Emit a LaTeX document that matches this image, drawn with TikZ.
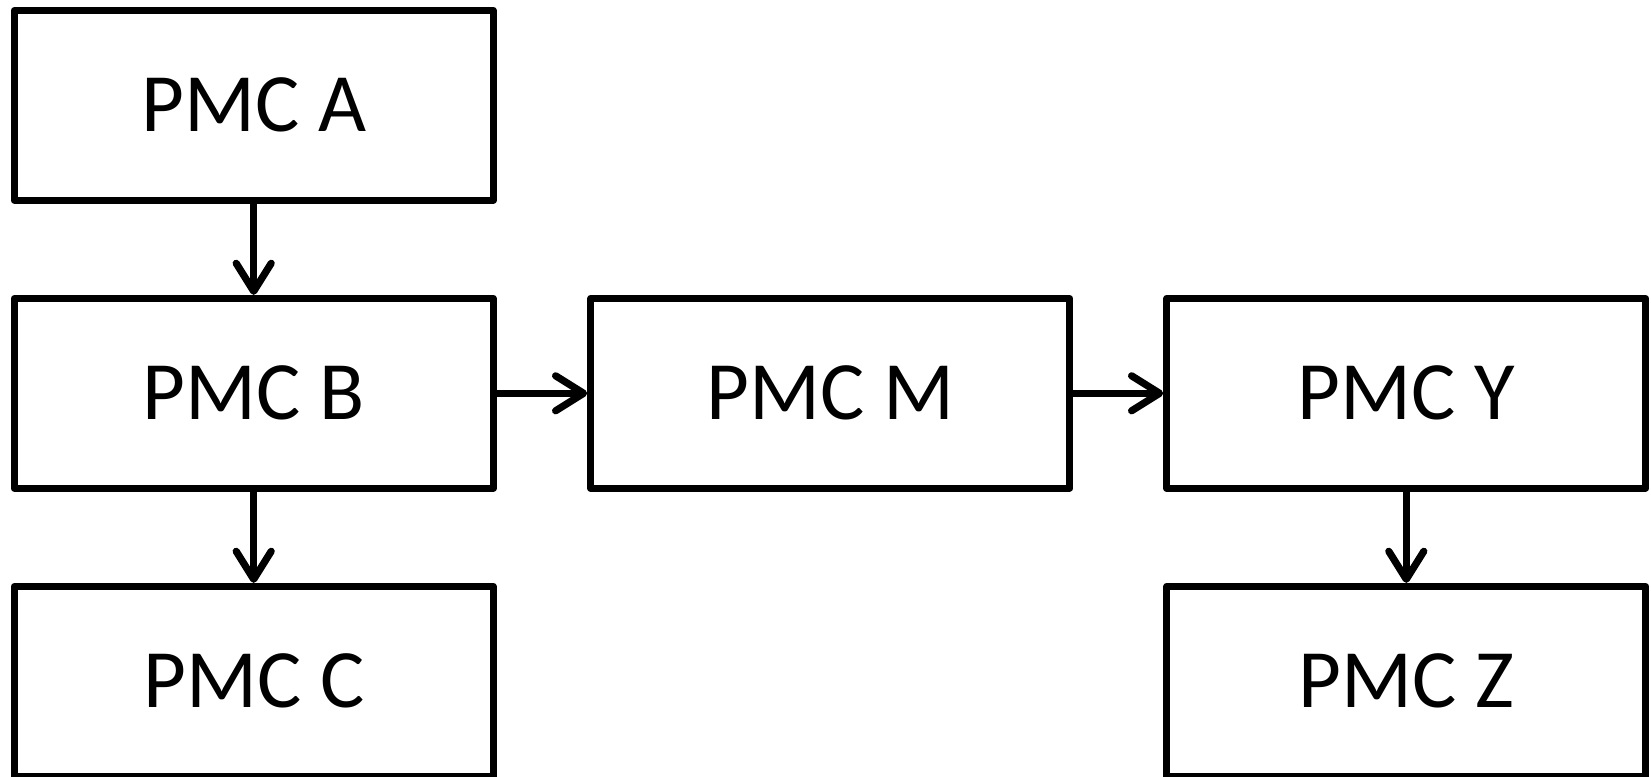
\documentclass[tikz,border=0pt]{standalone}
\usepackage{fontspec}
\setmainfont{Carlito}
\usetikzlibrary{arrows.meta}
\begin{document}
\begin{tikzpicture}[x=0.5pt,y=-0.5pt,
  pmcbox/.style={draw=black,line width=3.6pt,line join=round,rectangle,
    minimum width=239.5pt,minimum height=94.8pt,inner sep=0pt,
    font=\fontsize{41.5pt}{48pt}\selectfont},
  conn/.style={draw=black,line width=3.6pt,
    -{Straight Barb[length=14pt,width=17.5pt,line cap=round,line join=round]}}]
\useasboundingbox (0,0) rectangle (1651,777);
\node[pmcbox] (A) at (253.7,105.3) {PMC A};
\node[pmcbox] (B) at (253.7,393.3) {PMC B};
\node[pmcbox] (C) at (253.7,681.3) {PMC C};
\node[pmcbox] (M) at (830.3,393.3) {PMC M};
\node[pmcbox] (Y) at (1406.3,393.3) {PMC Y};
\node[pmcbox] (Z) at (1406.3,681.3) {PMC Z};
\draw[conn] (A.south) -- (B.north);
\draw[conn] (B.south) -- (C.north);
\draw[conn] (B.east) -- (M.west);
\draw[conn] (M.east) -- (Y.west);
\draw[conn] (Y.south) -- (Z.north);
\end{tikzpicture}
\end{document}
